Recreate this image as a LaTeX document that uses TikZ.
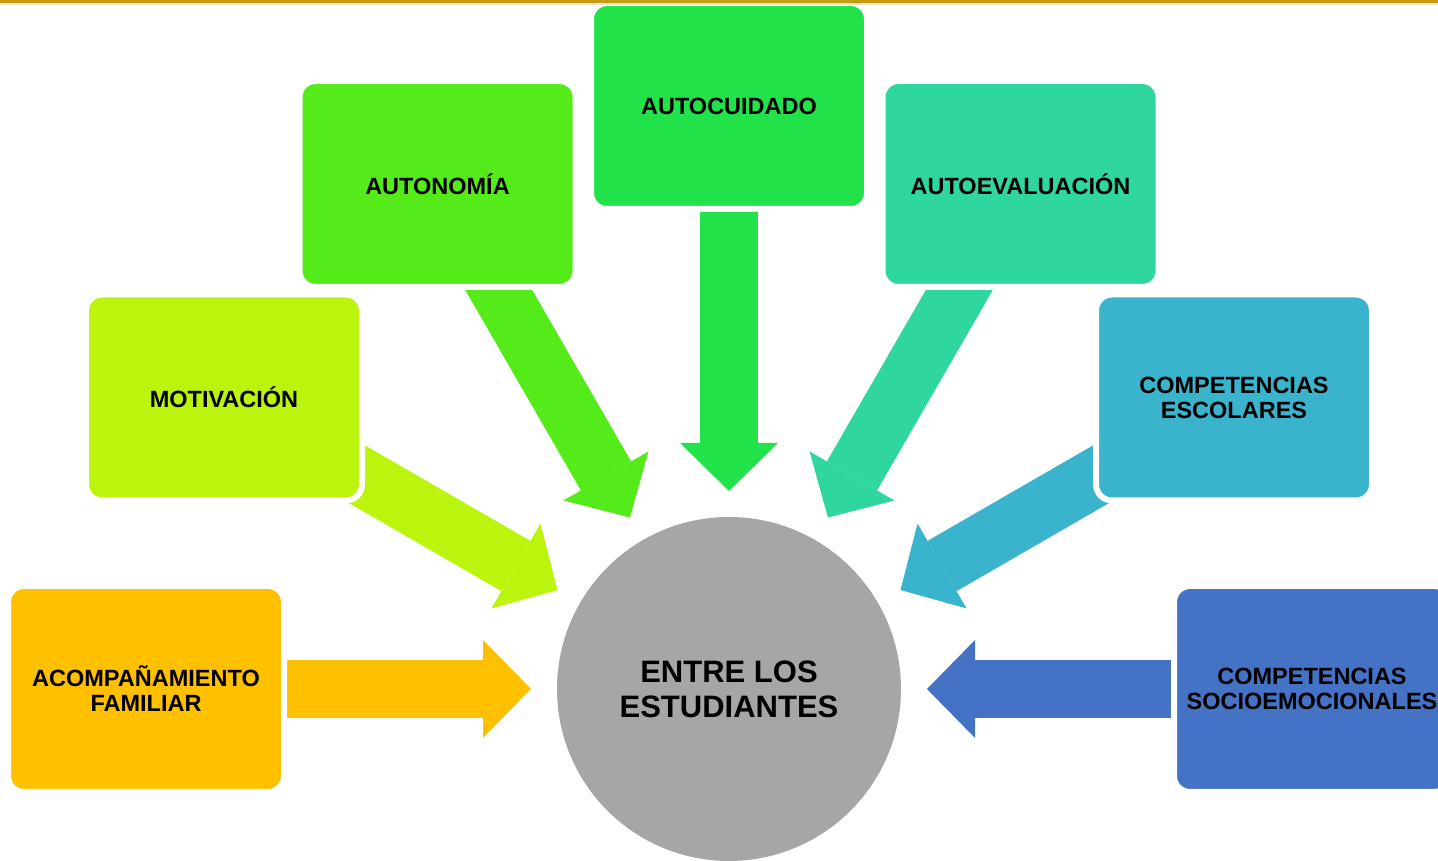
\documentclass[tikz,border=0pt]{standalone}
\usepackage{fontspec}
\setmainfont{Liberation Sans}
\usepackage{tikz}
\usetikzlibrary{arrows.meta,backgrounds}
\definecolor{esGold}{HTML}{C69C17}
\definecolor{esFamilia}{HTML}{FFC000}
\definecolor{esMotiva}{HTML}{BBF50E}
\definecolor{esAutonomia}{HTML}{55EB1A}
\definecolor{esCuidado}{HTML}{22E24A}
\definecolor{esEvalua}{HTML}{2FD6A0}
\definecolor{esEscolar}{HTML}{39B4CC}
\definecolor{esSocio}{HTML}{4472C4}
\definecolor{esCentro}{HTML}{A6A6A6}
\tikzset{
  es diagram/.style={x=1pt, y=1pt, font=\bfseries\fontsize{23.5}{25}\selectfont,
    text=black},
  es box/.style={draw=white, line width=6pt, rounded corners=16pt,
    minimum width=276pt, minimum height=206pt, align=center,
    inner sep=0pt, outer sep=0pt},
  es center/.style={circle, fill=esCentro, minimum size=344pt, inner sep=0pt,
    outer sep=0pt, align=center, font=\bfseries\fontsize{31}{35}\selectfont},
  es arrow/.style={line width=58pt,
    -{Triangle[length=48pt, width=98pt, line width=0pt]},
    shorten >=26pt}
}
\begin{document}
\begin{tikzpicture}[es diagram]
\useasboundingbox (0,0) rectangle (1438,861);
\node[es center] (ctr) at (729,172) {ENTRE LOS\\ESTUDIANTES};
\node[es box,fill=esFamilia] (fam) at (146,172) {ACOMPAÑAMIENTO\\FAMILIAR};
\node[es box,fill=esMotiva] (mot) at (224,463.5) {MOTIVACIÓN};
\node[es box,fill=esAutonomia] (aut) at (437.5,677) {AUTONOMÍA};
\node[es box,fill=esCuidado] (cui) at (729,755) {AUTOCUIDADO};
\node[es box,fill=esEvalua] (eva) at (1020.5,677) {AUTOEVALUACIÓN};
\node[es box,fill=esEscolar] (esc) at (1234,463.5) {COMPETENCIAS\\ESCOLARES};
\node[es box,fill=esSocio] (soc) at (1312,172) {COMPETENCIAS\\SOCIOEMOCIONALES};
\begin{scope}[on background layer]
\draw[es arrow,esFamilia] (fam.center) -- (ctr);
\draw[es arrow,esMotiva] (mot.center) -- (ctr);
\draw[es arrow,esAutonomia] (aut.center) -- (ctr);
\draw[es arrow,esCuidado] (cui.center) -- (ctr);
\draw[es arrow,esEvalua] (eva.center) -- (ctr);
\draw[es arrow,esEscolar] (esc.center) -- (ctr);
\draw[es arrow,esSocio] (soc.center) -- (ctr);
\end{scope}
% gold rule along the top edge
\fill[esGold!25] (0,855.8) rectangle (1438,857.6);
\fill[esGold] (0,857.6) rectangle (1438,861);
\end{tikzpicture}
\end{document}
